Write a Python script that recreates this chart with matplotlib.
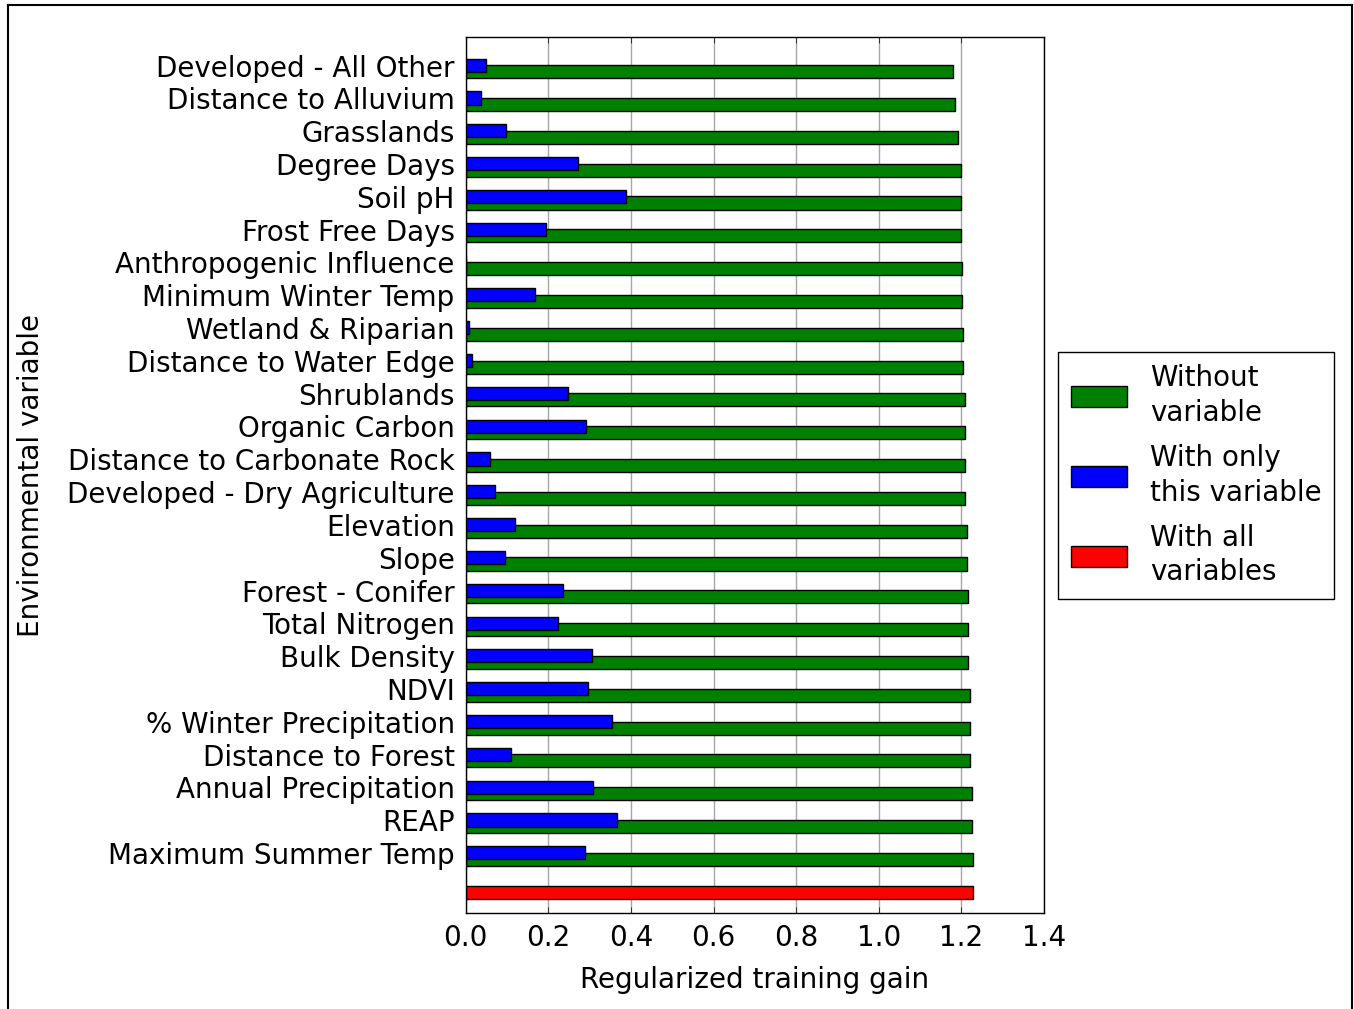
import numpy as np
import matplotlib
matplotlib.use('Agg')
import matplotlib.pyplot as plt
from matplotlib.lines import Line2D
from matplotlib.patches import Patch

# variables, top to bottom
variables = ['Developed - All Other', 'Distance to Alluvium', 'Grasslands', 'Degree Days',
             'Soil pH', 'Frost Free Days', 'Anthropogenic Influence', 'Minimum Winter Temp',
             'Wetland & Riparian', 'Distance to Water Edge', 'Shrublands', 'Organic Carbon',
             'Distance to Carbonate Rock', 'Developed - Dry Agriculture', 'Elevation', 'Slope',
             'Forest - Conifer', 'Total Nitrogen', 'Bulk Density', 'NDVI',
             '% Winter Precipitation', 'Distance to Forest', 'Annual Precipitation', 'REAP',
             'Maximum Summer Temp']

without_var = [1.181, 1.185, 1.193, 1.198, 1.198, 1.198, 1.201, 1.202, 1.205, 1.205,
               1.209, 1.209, 1.209, 1.209, 1.213, 1.213, 1.217, 1.217, 1.217, 1.221,
               1.221, 1.221, 1.225, 1.225, 1.229]
only_var = [0.049, 0.037, 0.098, 0.272, 0.387, 0.195, 0.0, 0.167, 0.009, 0.016,
            0.248, 0.292, 0.058, 0.070, 0.118, 0.094, 0.236, 0.223, 0.305, 0.297,
            0.355, 0.110, 0.309, 0.366, 0.289]
all_vars = 1.229

plt.style.use('classic')
plt.rcParams['font.family'] = 'DejaVu Sans'

fig = plt.figure(figsize=(13.54, 10.09), dpi=100)
fig.patch.set_facecolor('white')
ax = fig.add_axes([0.344, 0.095, 0.427, 0.868])

n = len(variables)
ypos = np.arange(n, 0, -1)  # top row = n
h = 0.4

ax.barh(ypos - 0.1, without_var, h, color='green', edgecolor='black', zorder=2)
ax.barh(ypos + 0.1, only_var, h, color='blue', edgecolor='black', zorder=3)
ax.barh([0 - 0.1], [all_vars], h, color='red', edgecolor='black', zorder=2)

ax.set_yticks(ypos)
ax.set_yticklabels(variables, fontsize=20)
ax.set_ylim(-0.74, n + 0.95)
ax.set_xlim(0, 1.4)
ax.set_xticks(np.arange(0, 1.41, 0.2))
ax.tick_params(axis='x', labelsize=20, pad=8)
ax.tick_params(axis='y', length=0, pad=8)
ax.grid(axis='x', color='gray', linestyle='-', linewidth=1, alpha=0.7)
ax.set_axisbelow(True)

ax.set_xlabel('Regularized training gain', fontsize=20, labelpad=10)
ax.set_ylabel('Environmental variable', fontsize=20, labelpad=16)

handles = [Patch(facecolor='green', edgecolor='black'),
           Patch(facecolor='blue', edgecolor='black'),
           Patch(facecolor='red', edgecolor='black')]
labels = ['Without\nvariable', 'With only\nthis variable', 'With all\nvariables']
leg = fig.legend(handles, labels, loc='center left', bbox_to_anchor=(0.7814, 0.529),
                 borderaxespad=0, fontsize=20, frameon=True, fancybox=False,
                 handlelength=2.05, handleheight=0.8, labelspacing=0.62,
                 borderpad=0.45, handletextpad=0.8)
for t in leg.get_texts():
    t.set_linespacing(1.3)

# thin frame round the picture (left, top, right)
for xs, ys in [([0.006, 0.006], [0, 0.995]), ([0.006, 0.9985], [0.995, 0.995]),
               ([0.9985, 0.9985], [0, 0.995])]:
    fig.add_artist(Line2D(xs, ys, transform=fig.transFigure, color='black', linewidth=1.5))

fig.savefig('out.png', dpi=100, facecolor='white')
